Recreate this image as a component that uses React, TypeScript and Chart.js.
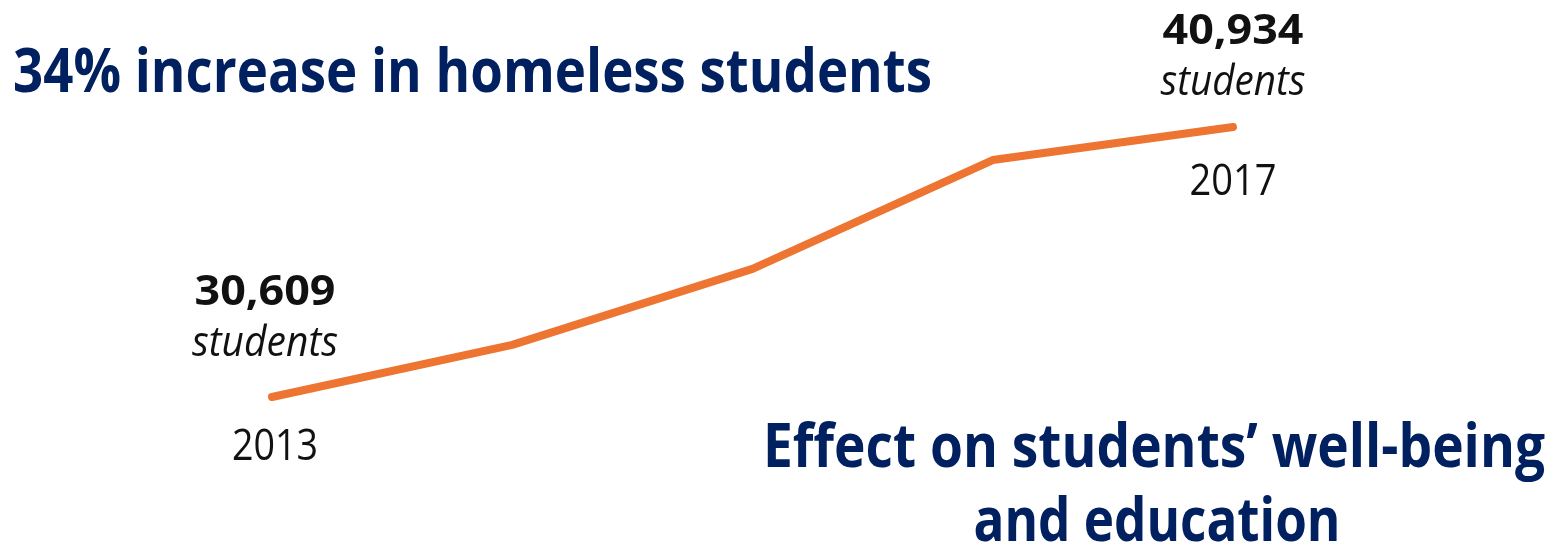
import React, { useEffect, useRef } from "react";
import { Chart, registerables } from "chart.js";

Chart.register(...registerables);

const years = ["2013", "2014", "2015", "2016", "2017"];
const students = [30609, 32600, 35511, 39671, 40934];
const firstLabel = "30,609";
const lastLabel = "40,934";
const unitLabel = "students";
const titleTop = "34% increase in homeless students";
const titleBottom1 = "Effect on students\u2019 well-being";
const titleBottom2 = "and education";

const NAVY = "#002060";
const ORANGE = "#ED7431";

function fitText(
  ctx: CanvasRenderingContext2D,
  text: string,
  font: string,
  x: number,
  y: number,
  targetW: number,
  align: CanvasTextAlign,
  color: string
) {
  ctx.save();
  ctx.font = font;
  const w = ctx.measureText(text).width;
  const sx = targetW / w;
  ctx.translate(x, y);
  ctx.scale(sx, 1);
  ctx.textAlign = align;
  ctx.textBaseline = "alphabetic";
  ctx.fillStyle = color;
  ctx.fillText(text, 0, 0);
  ctx.restore();
}

const annotationPlugin = {
  id: "annotations",
  afterDatasetsDraw(chart: any) {
    const ctx: CanvasRenderingContext2D = chart.ctx;
    const xs = chart.scales.x;
    const n = years.length;
    const x0 = xs.getPixelForValue(0);
    const x1 = xs.getPixelForValue(n - 1);

    // Titles
    fitText(ctx, titleTop, "bold 60px 'Open Sans'", 13, 92, 919, "left", NAVY);
    fitText(ctx, titleBottom1, "bold 60px 'Open Sans'", 1154, 467, 782, "center", NAVY);
    fitText(ctx, titleBottom2, "bold 60px 'Open Sans'", 1157, 541, 367, "center", NAVY);

    // First point labels
    fitText(ctx, firstLabel, "bold 42px 'Open Sans'", x0 - 7, 305, 141, "center", "#111");
    fitText(ctx, unitLabel, "italic 42px 'Open Sans'", x0 - 7, 356, 146, "center", "#111");
    fitText(ctx, years[0], "44px 'Open Sans'", x0 + 3, 460, 86, "center", "#111");

    // Last point labels
    fitText(ctx, lastLabel, "bold 42px 'Open Sans'", x1, 44, 141, "center", "#111");
    fitText(ctx, unitLabel, "italic 42px 'Open Sans'", x1, 95, 145, "center", "#111");
    fitText(ctx, years[n - 1], "44px 'Open Sans'", x1, 195, 87, "center", "#111");
  },
};

export default function App() {
  const ref = useRef<HTMLCanvasElement | null>(null);

  useEffect(() => {
    if (!ref.current) return;
    const chart = new Chart(ref.current, {
      type: "line",
      data: {
        labels: years,
        datasets: [
          {
            data: students,
            borderColor: ORANGE,
            borderWidth: 8,
            borderCapStyle: "round",
            borderJoinStyle: "round",
            pointRadius: 0,
            fill: false,
            tension: 0,
            clip: false as any,
          },
        ],
      },
      options: {
        responsive: false,
        animation: false,
        layout: { padding: { left: 272, right: 326, top: 127, bottom: 148 } },
        plugins: {
          legend: { display: false },
          tooltip: { enabled: false },
          title: { display: false },
        },
        scales: {
          x: { display: false, offset: false },
          y: { display: false, min: 30609, max: 40934 },
        },
      },
      plugins: [annotationPlugin],
    });
    return () => chart.destroy();
  }, []);

  return (
    <div style={{ position: "fixed", left: 0, top: 0, width: 1559, height: 545, background: "#fff" }}>
      <canvas ref={ref} width={1559} height={545} style={{ width: 1559, height: 545, display: "block" }} />
    </div>
  );
}
